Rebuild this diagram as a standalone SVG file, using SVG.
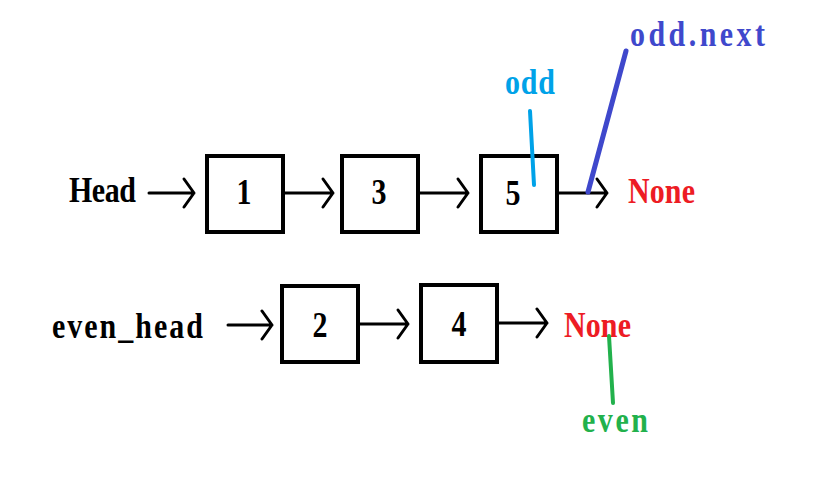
<svg xmlns="http://www.w3.org/2000/svg" width="815" height="477" viewBox="0 0 815 477">
  <defs>
    <style>
      .lbl { font-family: "Liberation Serif", "Times New Roman", serif; font-size: 30px; font-weight: bold; }
      .box { fill: #ffffff; stroke: #000000; stroke-width: 4; }
      .link { fill: none; stroke: #000000; stroke-width: 3; stroke-linecap: round; stroke-linejoin: round; }
      .ptr { fill: none; stroke-linecap: round; }
    </style>
  </defs>
  <rect width="815" height="477" fill="#ffffff"/>

  <!-- top list: Head -> 1 -> 3 -> 5 -> None -->
  <g id="head-label"><text class="lbl" textLength="67" lengthAdjust="spacing" transform="translate(69,202) scale(1,1.18)">Head</text></g>
  <g id="node-1"><rect class="box" x="207" y="156" width="76" height="76"/><text class="lbl" text-anchor="middle" transform="translate(244,204) scale(1,1.18)">1</text></g>
  <g id="node-3"><rect class="box" x="342" y="156" width="76" height="76"/><text class="lbl" text-anchor="middle" transform="translate(379,204) scale(1,1.18)">3</text></g>
  <g id="node-5"><rect class="box" x="481" y="156" width="76" height="76"/><text class="lbl" text-anchor="middle" transform="translate(513,205) scale(1,1.18)">5</text></g>
  <g id="none-top"><text class="lbl" fill="#ed1c24" textLength="67" lengthAdjust="spacing" transform="translate(628,203) scale(1,1.18)">None</text></g>

  <!-- bottom list: even_head -> 2 -> 4 -> None -->
  <g id="even-head-label"><text class="lbl" textLength="151" lengthAdjust="spacing" transform="translate(52,338) scale(1,1.18)">even_head</text></g>
  <g id="node-2"><rect class="box" x="282" y="286" width="76" height="76"/><text class="lbl" text-anchor="middle" transform="translate(320,337) scale(1,1.18)">2</text></g>
  <g id="node-4"><rect class="box" x="421" y="285" width="76" height="77"/><text class="lbl" text-anchor="middle" transform="translate(459,336) scale(1,1.18)">4</text></g>
  <g id="none-bottom"><text class="lbl" fill="#ed1c24" textLength="67" lengthAdjust="spacing" transform="translate(564,337) scale(1,1.18)">None</text></g>

  <!-- pointer labels -->
  <g id="odd-label"><text class="lbl" fill="#00a2e8" textLength="50" lengthAdjust="spacing" transform="translate(505,94) scale(1,1.18)">odd</text></g>
  <g id="odd-next-label"><text class="lbl" fill="#3f48cc" textLength="135" lengthAdjust="spacing" transform="translate(630,46) scale(1,1.18)">odd.next</text></g>
  <g id="even-label"><text class="lbl" fill="#22b14c" textLength="66" lengthAdjust="spacing" transform="translate(582,432) scale(1,1.18)">even</text></g>

  <!-- connectors -->
  <g id="connectors">
    <path class="link" d="M149,193 H194 M184,179 L194,193 L184,207"/>
    <path class="link" d="M285,193 H333 M323,179 L333,193 L323,207"/>
    <path class="link" d="M420,193 H468 M458,179 L468,193 L458,207"/>
    <path class="link" d="M559,193 H607 M597,179 L607,193 L597,207"/>
    <path class="link" d="M228,325 H272 M262,311 L272,325 L262,339"/>
    <path class="link" d="M360,324 H408 M398,310 L408,324 L398,338"/>
    <path class="link" d="M499,323 H547 M537,309 L547,323 L537,337"/>
    <path class="ptr" stroke="#00a2e8" stroke-width="4" d="M530,111 L534,185"/>
    <path class="ptr" stroke="#3f48cc" stroke-width="5" d="M626,51 L588,192"/>
    <path class="ptr" stroke="#22b14c" stroke-width="4" d="M609,336 L613,403"/>
  </g>
</svg>
